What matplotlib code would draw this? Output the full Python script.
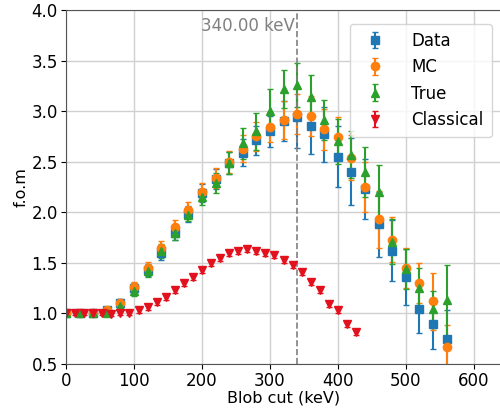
import matplotlib
matplotlib.use("Agg")
import matplotlib.pyplot as plt

# Data / MC / True share the cut values
cuts = [0, 20, 40, 60, 80, 100, 120, 140, 160, 180, 200, 220, 240, 260, 280,
        300, 320, 340, 360, 380, 400, 420, 440, 460, 480, 500, 520, 540, 560]
data_fom = [1.0, 1.0, 1.0, 1.03, 1.1, 1.25, 1.43, 1.6, 1.8, 1.98, 2.19, 2.33, 2.49,
            2.59, 2.71, 2.80, 2.90, 2.94, 2.85, 2.77, 2.55, 2.40, 2.23, 1.88, 1.62,
            1.36, 1.04, 0.90, 0.75]
data_err = [0.02, 0.02, 0.02, 0.03, 0.04, 0.05, 0.06, 0.07, 0.07, 0.08, 0.09, 0.1, 0.11,
            0.13, 0.14, 0.15, 0.2, 0.3, 0.27, 0.27, 0.3, 0.33, 0.3, 0.32, 0.3,
            0.28, 0.23, 0.25, 0.28]
mc_fom = [1.0, 1.0, 1.0, 1.03, 1.1, 1.26, 1.45, 1.65, 1.85, 2.02, 2.2, 2.34, 2.5,
          2.63, 2.75, 2.84, 2.91, 2.97, 2.95, 2.82, 2.74, 2.54, 2.25, 1.93, 1.73,
          1.45, 1.30, 1.12, 0.67]
mc_err = [0.02, 0.02, 0.02, 0.03, 0.04, 0.05, 0.06, 0.07, 0.07, 0.08, 0.09, 0.1, 0.11,
          0.13, 0.14, 0.15, 0.19, 0.2, 0.2, 0.2, 0.2, 0.22, 0.25, 0.28, 0.22,
          0.2, 0.2, 0.28, 0.22]
true_fom = [1.0, 1.0, 1.0, 1.0, 1.07, 1.22, 1.42, 1.62, 1.8, 1.97, 2.15, 2.29, 2.49,
            2.68, 2.80, 3.0, 3.22, 3.26, 3.14, 2.91, 2.70, 2.57, 2.40, 2.2, 1.71,
            1.44, 1.25, 1.04, 1.13]
true_err = [0.02, 0.02, 0.02, 0.03, 0.04, 0.05, 0.06, 0.07, 0.07, 0.06, 0.08, 0.1, 0.11,
            0.15, 0.18, 0.22, 0.19, 0.22, 0.22, 0.2, 0.22, 0.23, 0.25, 0.27, 0.22,
            0.2, 0.2, 0.18, 0.35]

classical_cuts = [0, 13.3, 26.7, 40, 53.3, 66.7, 80, 93.3, 106.7, 120, 133.3, 146.7,
                  160, 173.3, 186.7, 200, 213.3, 226.7, 240, 253.3, 266.7, 280, 293.3,
                  306.7, 320, 333.3, 346.7, 360, 373.3, 386.7, 400, 413.3, 426.7]
classical_fom = [1.0, 1.0, 1.0, 1.0, 1.0, 0.99, 1.0, 1.0, 1.03, 1.06, 1.11, 1.16,
                 1.23, 1.30, 1.36, 1.43, 1.50, 1.55, 1.60, 1.62, 1.64, 1.62, 1.60,
                 1.58, 1.53, 1.48, 1.41, 1.31, 1.23, 1.09, 1.03, 0.90, 0.82]
classical_err = [0.02] * 8 + [0.03] * 25

best_cut = 340.0

fig = plt.figure(figsize=(5.0, 4.09), dpi=100)
ax = fig.add_axes([0.132, 0.110, 0.87, 0.8656])

common = dict(linestyle="none", capsize=2.5, elinewidth=1.5, markersize=6)
ax.errorbar(cuts, data_fom, yerr=data_err, marker="s", color="#1f77b4", label="Data", **common)
ax.errorbar(cuts, mc_fom, yerr=mc_err, marker="o", color="#ff7f0e", label="MC", **common)
ax.errorbar(cuts, true_fom, yerr=true_err, marker="^", color="#2ca02c", label="True", **common)
ax.errorbar(classical_cuts, classical_fom, yerr=classical_err, marker="v", color="#e3101e",
            label="Classical", **common)

ax.axvline(best_cut, color="gray", linestyle="--", linewidth=1.2)
ax.text(best_cut - 3, 3.84, f"{best_cut:.2f} keV", color="gray", fontsize=12,
        ha="right", va="center")

ax.set_xlim(0, 640)
ax.set_ylim(0.5, 4.0)
ax.set_xticks([0, 100, 200, 300, 400, 500, 600])
ax.set_yticks([0.5, 1.0, 1.5, 2.0, 2.5, 3.0, 3.5, 4.0])
ax.set_yticklabels(["0.5", "1.0", "1.5", "2.0", "2.5", "3.0", "3.5", "4.0"])
ax.tick_params(labelsize=12, pad=2.5)
ax.set_xlabel("Blob cut (keV)", fontsize=11.5, labelpad=0)
ax.set_ylabel("f.o.m", fontsize=11.5, labelpad=2)
ax.grid(True, color="#d0d0d0", linewidth=1.0)
ax.set_axisbelow(True)
for s in ax.spines.values():
    s.set_color("#555555")

ax.legend(loc="upper right", fontsize=12, bbox_to_anchor=(0.998, 0.985),
          handletextpad=1.2, borderpad=0.5, labelspacing=0.5)

fig.savefig("out.png", dpi=100)
